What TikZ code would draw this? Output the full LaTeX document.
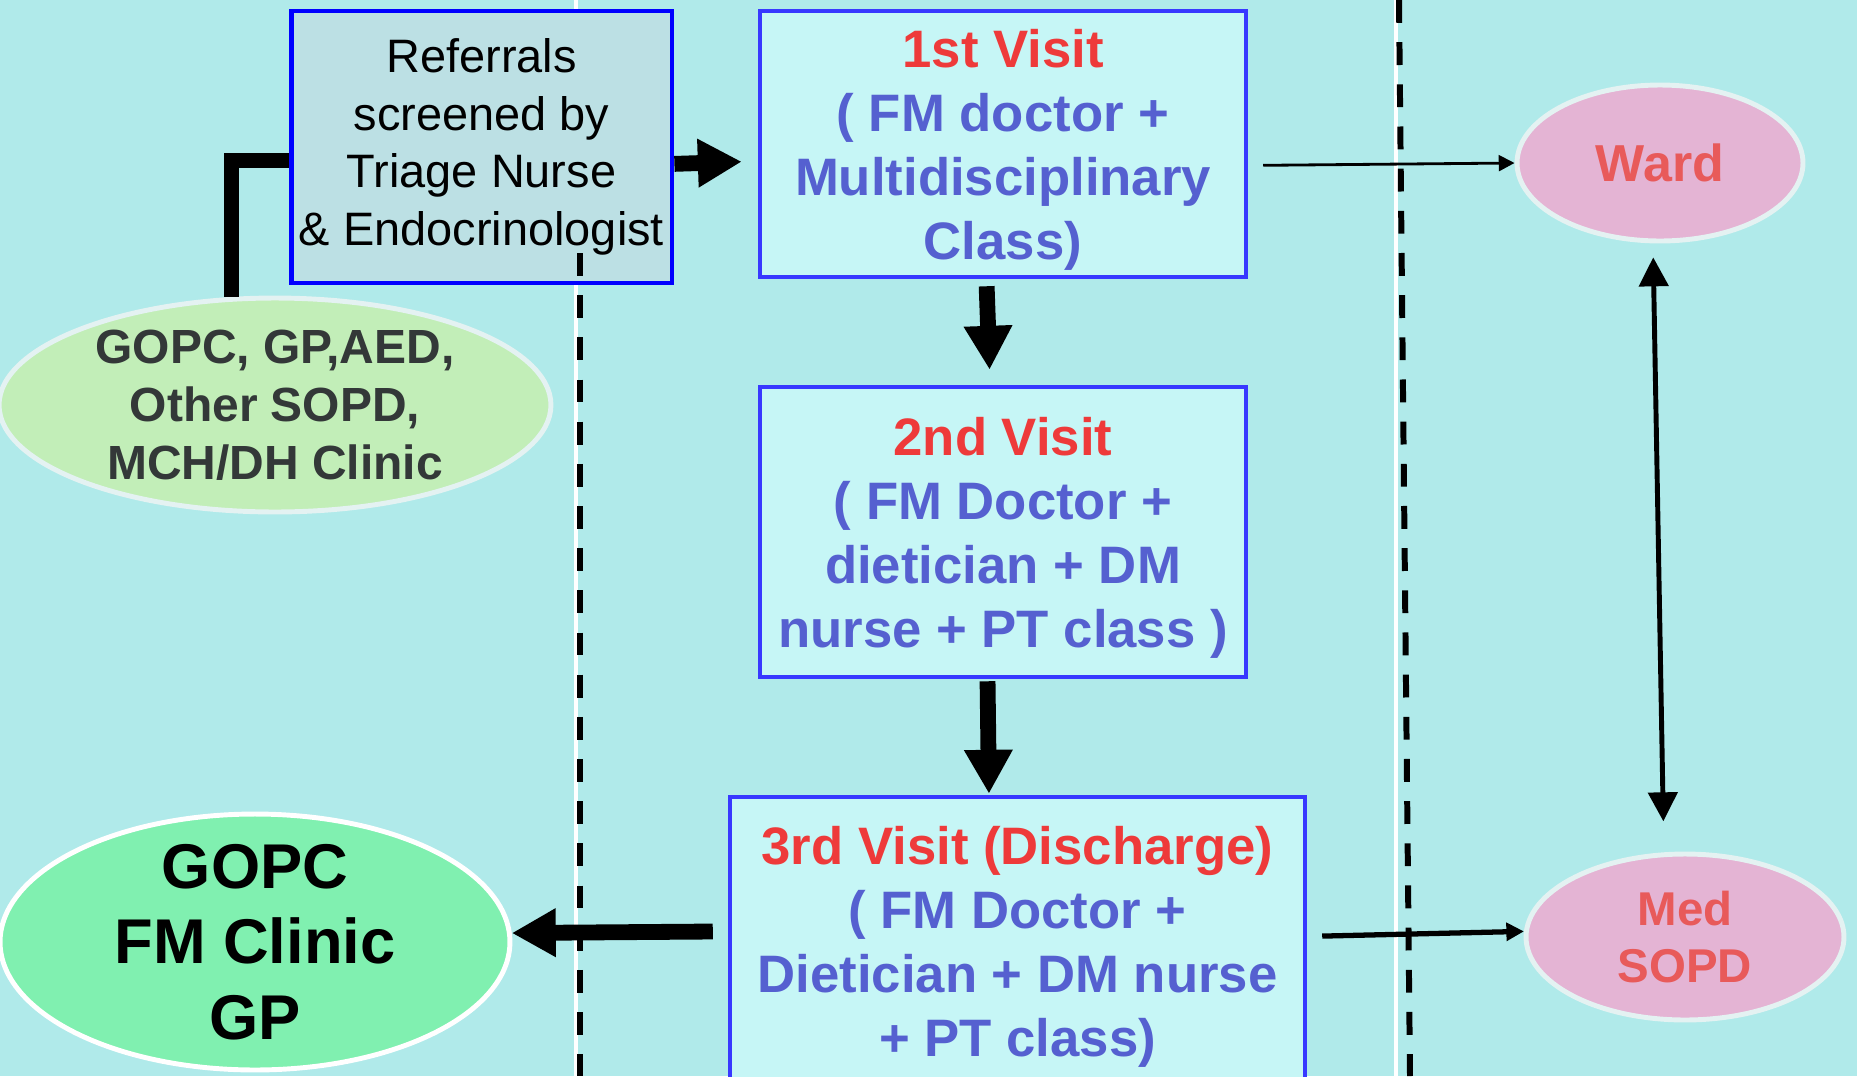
\documentclass[tikz,border=0pt]{standalone}
\usepackage{fontspec}
\setmainfont{Liberation Sans}
\usetikzlibrary{arrows.meta, shapes.geometric}

\definecolor{pool}{HTML}{B0EAEA}
\definecolor{screenfill}{HTML}{BCE0E4}
\definecolor{visitfill}{HTML}{C6F6F6}
\definecolor{visitblue}{HTML}{3838FF}
\definecolor{titlered}{HTML}{EE3A3A}
\definecolor{bodyblue}{HTML}{5560D0}
\definecolor{feedgreen}{HTML}{C2EEB8}
\definecolor{clinicgreen}{HTML}{80F0B0}
\definecolor{wardpink}{HTML}{E4B4D4}
\definecolor{wardred}{HTML}{E85A5A}
\definecolor{rimgrey}{HTML}{E4F2F2}
\definecolor{greytext}{HTML}{333838}

\begin{document}
\begin{tikzpicture}[
  x = 0.02cm, y = -0.02cm,
  screen/.style = {draw = blue, line width = 2.8pt, fill = screenfill,
    align = center, inner sep = 0pt,
    font = \fontsize{26.7}{32.8}\selectfont},
  visit/.style = {draw = visitblue, line width = 2.6pt, fill = visitfill,
    align = center, inner sep = 0pt, text = bodyblue, text depth = 0pt,
    font = \bfseries\fontsize{30}{36.4}\selectfont},
  source/.style = {ellipse, draw = rimgrey, line width = 2.8pt,
    fill = feedgreen, align = center, inner sep = -8pt, text = greytext,
    font = \bfseries\fontsize{27.3}{33}\selectfont},
  clinic/.style = {ellipse, draw = white, line width = 2.8pt,
    fill = clinicgreen, align = center, inner sep = -14pt,
    font = \bfseries\fontsize{36}{43}\selectfont},
  hospital/.style = {ellipse, draw = rimgrey, line width = 2.8pt,
    fill = wardpink, align = center, inner sep = 0pt, text = wardred,
    font = \bfseries\fontsize{27}{32}\selectfont},
  feed/.style = {line width = 8.5pt, line join = miter},
  heavy/.style = {line width = 9pt, -{Triangle[length = 25pt, width = 26pt]}},
  light/.style = {line width = 1.6pt, -{Triangle[length = 9pt, width = 9pt]}},
  medium/.style = {line width = 3pt, -{Triangle[length = 10pt, width = 10pt]}},
  twoway/.style = {line width = 2.8pt,
    {Triangle[length = 16.5pt, width = 16.5pt]}-{Triangle[length = 16.5pt, width = 16.5pt]}},
  gap/.style = {draw = white, line width = 2.5pt},
  border/.style = {line width = 3.4pt, dash pattern = on 13pt off 11pt},
  ]

  \clip (0, 0) rectangle (1857, 1076);
  \fill [pool] (0, 0) rectangle (1857, 1076);

  \draw [gap] (576, 0) -- (576, 1076);
  \draw [gap] (1396, 0) -- (1396, 1076);

  \node at (481.5, 147)
  [screen, minimum width = 7.62cm, minimum height = 5.44cm, name = Referrals]
  {Referrals\\ screened by\\ Triage Nurse\\ \& Endocrinologist};

  \node at (275, 405)
  [source, minimum width = 11.04cm, minimum height = 4.28cm, name = Feeder]
  {GOPC, GP,AED,\\ Other SOPD,\\ MCH/DH Clinic};

  \node at (1003, 144)
  [visit, minimum width = 9.72cm, minimum height = 5.32cm, name = First]
  {\textcolor{titlered}{1st Visit}\\ ( FM doctor +\\ Multidisciplinary\\ Class)};

  \node at (1003, 532)
  [visit, minimum width = 9.72cm, minimum height = 5.8cm, name = Second]
  {\textcolor{titlered}{2nd Visit}\\ ( FM Doctor +\\ dietician + DM\\ nurse + PT class )};

  \node at (1017.5, 941.5)
  [visit, minimum width = 11.5cm, minimum height = 5.78cm, name = Third]
  {\textcolor{titlered}{3rd Visit (Discharge)}\\ ( FM Doctor +\\ Dietician + DM nurse\\ + PT class)};

  \node at (255, 942)
  [clinic, minimum width = 10.2cm, minimum height = 5.12cm, name = Clinic]
  {GOPC\\ FM Clinic\\ GP};

  \node at (1660, 163)
  [hospital, minimum width = 5.72cm, minimum height = 3.12cm, name = Ward,
   font = \bfseries\fontsize{29.6}{34}\selectfont] {Ward};

  \node at (1685, 937)
  [hospital, minimum width = 6.36cm, minimum height = 3.32cm, name = MedSOPD]
  {Med\\ SOPD};

  % dividers
  \draw [border] (580, 253) -- (580, 1076);
  \draw [border] (1399, 0) -- (1410, 1076);

  \draw [feed] (Feeder.112.6) |- (Referrals.184.5);

  \draw [heavy, shorten > = 0.32cm] (Referrals.355.5) -- (First.184.2);

  \draw [heavy, shorten < = 0.14cm, shorten > = 0.3cm] (First.263.6) -- (Second.95.9);

  \draw [heavy, shorten < = 0.04cm, shorten > = 0.02cm] (Second.264.1) -- (Third.101.5);

  \draw [heavy, shorten < = 0.3cm] (Third.178.3) -- (Clinic.2);

  \draw [light, shorten < = 0.3cm] (First.355.8) -- (Ward.180);

  \draw [medium, shorten < = 0.3cm] (Third.1.7) -- (MedSOPD.178.5);

  \draw [twoway, shorten < = 0.28cm, shorten > = 0.62cm] (Ward.265.6) -- (MedSOPD.104.2);

\end{tikzpicture}
\end{document}
